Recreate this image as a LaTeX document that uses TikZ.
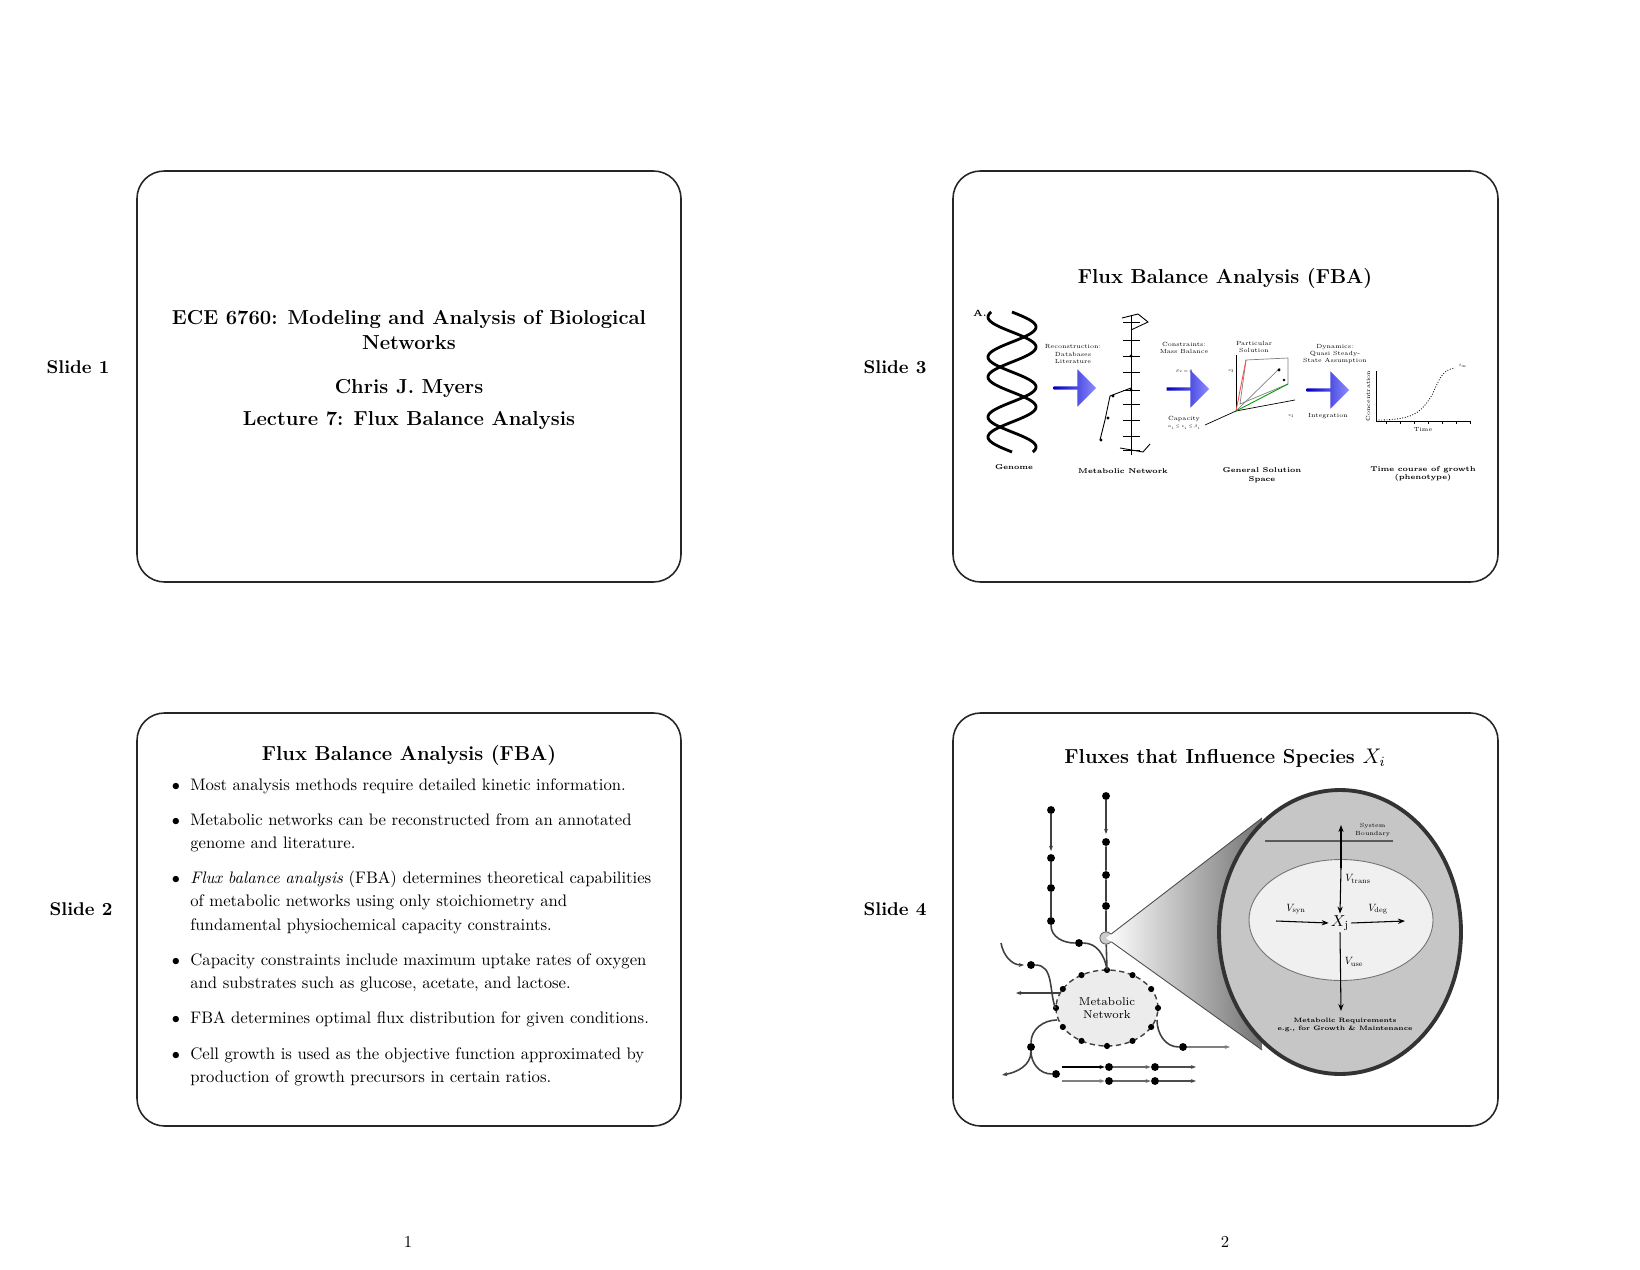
\documentclass[tikz,border=0pt]{standalone}
\usepackage{amsmath}
\usepackage{amssymb}
\usepackage{graphicx}
\usepackage{xcolor}
\usetikzlibrary{shapes.geometric, shapes.arrows, arrows.meta, positioning, calc}

\newcommand{\smallmath}[2]{\scalebox{#1}{$#2$}}

\tikzset{
  slide/.style={draw=black!85, line width=0.9pt, rounded corners=0.55cm},
  slidelab/.style={font=\fontsize{10.5}{12}\selectfont\bfseries},
  ttl/.style={font=\fontsize{11.5}{14}\selectfont\bfseries},
  bul/.style={anchor=base west, inner sep=0pt, text width=9.3cm, align=left,
    font=\fontsize{9.5}{13.4}\selectfont},
  tiny/.style={font=\fontsize{3.4}{4}\selectfont, align=center, inner sep=0pt},
  dot/.style={circle, fill=black, inner sep=0pt, minimum size=4.5pt},
  fluxarr/.style={-{Stealth[length=4pt]}, line width=0.6pt},
  netline/.style={line width=0.9pt, black!75},
  bigarr/.style={single arrow, draw=none, minimum width=0.75cm, minimum height=0.85cm,
    single arrow head extend=0.08cm, inner sep=0pt,
    left color=blue!75!black, right color=blue!45!white}
}

\begin{document}
\begin{tikzpicture}[x=0.02cm, y=-0.02cm]
\useasboundingbox (0,0) rectangle (1640,1270);

% slide frames
\draw[slide] (137,171) rectangle (681,582);
\draw[slide] (953,171) rectangle (1498,582);
\draw[slide] (137,713) rectangle (681,1126);
\draw[slide] (953,713) rectangle (1498,1126);

\node[slidelab] (lab1) at (78,367) {Slide 1};
\node[slidelab] (lab3) at (895,367) {Slide 3};
\node[slidelab] (lab2) at (81,909) {Slide 2};
\node[slidelab] (lab4) at (895,909) {Slide 4};
\node[font=\fontsize{9.5}{11}\selectfont] (pg1) at (408,1242) {1};
\node[font=\fontsize{9.5}{11}\selectfont] (pg2) at (1225,1242) {2};

% Slide 1
\node[ttl, align=center] (course) at (409,330) {ECE 6760: Modeling and Analysis of Biological\\Networks};
\node[ttl] (author) at (409,388) {Chris J. Myers};
\node[ttl] (lecture) at (409,420) {Lecture 7: Flux Balance Analysis};

% Slide 2
\node[ttl] (title2) at (409,755) {Flux Balance Analysis (FBA)};
\foreach \y in {790,825,883,965,1023,1059}
  \node[font=\fontsize{9.5}{12}\selectfont, anchor=base] at (176,\y) {$\bullet$};
\node[bul] (b1) at (190,790) {Most analysis methods require detailed kinetic information.};
\node[bul] (b2) at (190,825) {Metabolic networks can be reconstructed from an annotated genome and literature.};
\node[bul] (b3) at (190,883) {\emph{Flux balance analysis} (FBA) determines theoretical capabilities\\of metabolic networks using only stoichiometry and\\fundamental physiochemical capacity constraints.};
\node[bul] (b4) at (190,965) {Capacity constraints include maximum uptake rates of oxygen and substrates such as glucose, acetate, and lactose.};
\node[bul] (b5) at (190,1023) {FBA determines optimal flux distribution for given conditions.};
\node[bul] (b6) at (190,1059) {Cell growth is used as the objective function approximated by production of growth precursors in certain ratios.};

% Slide 3
\node[ttl] (title3) at (1225,278) {Flux Balance Analysis (FBA)};
\node[font=\fontsize{5}{6}\selectfont\bfseries] (panA) at (980,313) {A.};
\draw[line width=1.6pt, domain=312:452, samples=120, smooth, variable=\t]
  plot ({1012+24*sin(6*(\t-312))}, \t);
\draw[line width=1.6pt, domain=312:452, samples=120, smooth, variable=\t]
  plot ({1012-24*sin(6*(\t-312)+60)}, \t);
\node[tiny, font=\fontsize{4}{5}\selectfont\bfseries] (genome) at (1014,467) {Genome};
\node[bigarr] (arr1) at (1074,388) {};
\node[bigarr] (arr2) at (1187,389) {};
\node[bigarr] (arr3) at (1327,390) {};
\node[tiny] (recon) at (1073,354) {Reconstruction:\\Databases\\Literature};
\node[tiny] (constr) at (1184,348) {Constraints:\\Mass Balance};
\node[tiny] (sv) at (1184,371) {\smallmath{0.45}{Sv=0}};
\node[tiny] (capac) at (1184,423) {Capacity\\\smallmath{0.45}{\alpha_i\le v_i\le\beta_i}};
\node[tiny] (dyn) at (1335,354) {Dynamics:\\Quasi Steady-\\State Assumption};
\node[tiny] (integ) at (1328,416) {Integration};
% metabolic network sketch
\draw[line width=0.5pt] (1131,316) -- (1131,455);
\foreach \y in {322,340,356,372,390,404,420,436,450}
  \draw[line width=0.4pt] (1123,\y) -- (1140,\y);
\draw[line width=0.5pt] (1131,388) -- (1110,396) -- (1105,420) -- (1100,440);
\draw[line width=0.5pt] (1122,318) -- (1138,314) -- (1148,322) -- (1131,330);
\draw[line width=0.5pt] (1120,448) -- (1143,452) -- (1150,444);
\foreach \p in {(1131,356),(1113,396),(1108,418),(1101,440),(1131,390)}
  \fill \p circle (1.6);
\node[tiny, font=\fontsize{4}{5}\selectfont\bfseries] (metnet) at (1123,471) {Metabolic Network};
% solution space
\coordinate (o) at (1236,411);
\draw[line width=0.4pt] (o) -- (1236,355);
\draw[line width=0.4pt] (o) -- (1295,400);
\draw[line width=0.4pt] (o) -- (1205,425);
\draw[line width=0.4pt, gray] (1246,360) -- (1288,358) -- (1288,384) -- (1240,404) -- cycle;
\draw[red!70, line width=0.5pt] (o) -- (1246,360);
\draw[gray, line width=0.4pt] (o) -- (1280,368);
\draw[green!60!black, line width=0.5pt] (o) -- (1288,384);
\fill (1279,370) circle (1.6) (1284,380) circle (1.4);
\node[tiny] (partic) at (1254,347) {Particular\\Solution};
\node[tiny] (v3) at (1231,371) {\smallmath{0.45}{v_3}};
\node[tiny] (v1) at (1291,416) {\smallmath{0.45}{v_1}};
\node[tiny, font=\fontsize{4}{5}\selectfont\bfseries] (gensol) at (1262,475) {General Solution\\Space};
% growth curve
\draw[line width=0.4pt] (1376,371) -- (1376,421) -- (1470,421);
\foreach \x in {1386,1400,1414,1428,1442,1456,1470}
  \draw[line width=0.3pt] (\x,421) -- (\x,424);
\draw[line width=0.5pt, densely dotted] (1376,420) .. controls (1410,420) and (1420,415) .. (1432,395) .. controls (1440,378) and (1442,370) .. (1455,368);
\node[tiny] (glabel) at (1463,366) {\smallmath{0.45}{t_\infty}};
\node[tiny] (ylab) at (1368,396) {\rotatebox{90}{Concentration}};
\node[tiny] (xlab) at (1423,430) {Time};
\node[tiny, font=\fontsize{4}{5}\selectfont\bfseries] (timec) at (1423,474) {Time course of growth\\(phenotype)};

% Slide 4
\node[ttl] (title4) at (1225,758) {Fluxes that Influence Species $X_i$};
% zoom cone
\node[circle, draw=black!70, fill=gray!40, inner sep=0pt, minimum size=7pt] (focus) at (1106,938) {};
\coordinate (ctop) at (1262,818);
\coordinate (cbot) at (1262,1050);
\shade[left color=white, right color=black!55] (focus.center) -- (ctop) -- (cbot) -- cycle;
\draw[black!70, line width=0.5pt] (focus) -- (ctop) (focus) -- (cbot);
\node[ellipse, draw=black!80, line width=2.2pt, fill=gray!45, minimum width=4.84cm, minimum height=5.68cm] (cell) at (1340,932) {};
\node[ellipse, draw=black!55, line width=0.5pt, fill=gray!12, minimum width=3.68cm, minimum height=2.42cm] (inner) at (1341,920) {};
\draw[gray!70!black, line width=1.3pt] (1265,841) -- (1393,841);
\node[tiny, anchor=west] (sysb) at (1355,830) {System\\Boundary};
\node[inner sep=1pt, font=\fontsize{9}{10}\selectfont] (xj) at (1340,923) {$X_{\mathrm{j}}$};
\coordinate (top) at (1341,825);
\coordinate (bot) at (1341,1011);
\draw[fluxarr] (1341,868) -- (top);
\draw[fluxarr] (1341,868) -- (xj.north);
\draw[fluxarr] (xj.south) -- (bot);
\coordinate (synin) at (1276,921);
\coordinate (degout) at (1405,921);
\draw[fluxarr] (synin) -- (xj.west);
\draw[fluxarr] (xj.east) -- (degout);
\node (vtrans) at (1358,879) {\smallmath{0.6}{V_{\mathrm{trans}}}};
\node (vsyn) at (1296,909) {\smallmath{0.6}{V_{\mathrm{syn}}}};
\node (vdeg) at (1378,909) {\smallmath{0.6}{V_{\mathrm{deg}}}};
\node (vuse) at (1354,962) {\smallmath{0.6}{V_{\mathrm{use}}}};
\node[tiny, font=\fontsize{3.6}{4.3}\selectfont\bfseries] (req) at (1345,1025) {Metabolic Requirements\\e.g., for Growth \& Maintenance};
% metabolic network
\node[ellipse, draw=black!75, densely dashed, line width=0.8pt, fill=gray!15, minimum width=2.04cm, minimum height=1.52cm, align=center, font=\fontsize{6.5}{7.5}\selectfont] (net) at (1107,1008) {Metabolic\\Network};
\foreach \a in {0,30,60,90,120,150,180,210,240,270,300,330}
  \node[dot, minimum size=3.5pt] at ($(net.center)+({51*cos(\a)},{-38*sin(\a)})$) {};
% upper chains
\node[dot] (c1) at (1106,796) {};
\node[dot] (c2) at (1106,842) {};
\node[dot] (c3) at (1106,875) {};
\node[dot] (c4) at (1106,906) {};
\draw[netline, -{Stealth[length=3pt]}] (c1) -- (1106,834);
\draw[netline] (c2) -- (c3) -- (c4) -- (focus) -- (net.north);
\node[dot] (d1) at (1051,810) {};
\node[dot] (d2) at (1051,858) {};
\node[dot] (d3) at (1051,888) {};
\node[dot] (d4) at (1051,921) {};
\node[dot] (d5) at (1079,943) {};
\draw[netline, -{Stealth[length=3pt]}] (d1) -- (1051,851);
\draw[netline] (d2) -- (d3) -- (d4);
\draw[netline] (d4) to[out=-90, in=180] (d5);
\draw[netline] (d5) to[out=0, in=100] (net.north);
% left side
\coordinate (inl) at (1001,943);
\node[dot] (e1) at (1031,965) {};
\draw[netline, -{Stealth[length=3pt]}] (inl) to[out=-80, in=180] (1024,965);
\draw[netline] (e1) to[out=0, in=110] (net.west);
\coordinate (outl) at (1016,993);
\draw[netline, -{Stealth[length=3pt]}] (1060,993) -- (outl);
\node[dot] (f1) at (1031,1047) {};
\node[dot] (f2) at (1056,1074) {};
\coordinate (outll) at (1002,1075);
\draw[netline] ($(net.center)+(-50,12)$) to[out=180, in=90] (f1);
\draw[netline, -{Stealth[length=3pt]}] (f1) to[out=-90, in=10] (outll);
\draw[netline] (f1) to[out=-90, in=180] (f2);
% right side
\node[dot] (g1) at (1183,1047) {};
\coordinate (outr) at (1230,1047);
\draw[netline] ($(net.center)+(50,12)$) to[out=-90, in=180] (g1);
\draw[gray, line width=0.9pt, -{Stealth[length=3pt]}] (g1) -- (outr);
% bottom rows
\foreach \y/\c in {1067/black, 1081/gray} {
  \node[dot] (h1\y) at (1109,\y) {};
  \node[dot] (h2\y) at (1155,\y) {};
  \draw[\c, line width=0.9pt, -{Stealth[length=3pt]}] (1062,\y) -- (h1\y);
  \draw[gray!80!black, line width=0.9pt, -{Stealth[length=3pt]}] (h1\y) -- (h2\y);
  \draw[black!70, line width=0.9pt, -{Stealth[length=3pt]}] (h2\y) -- (1196,\y);
}
\end{tikzpicture}
\end{document}
